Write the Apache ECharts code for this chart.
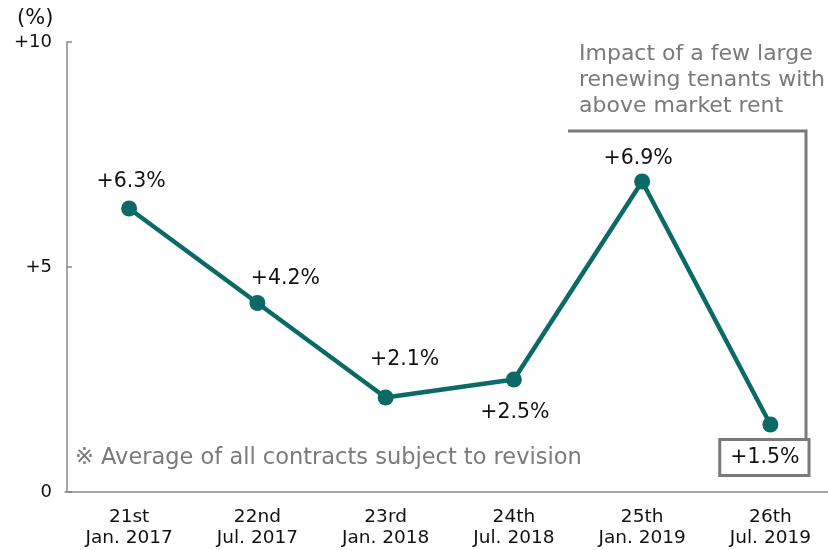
<!DOCTYPE html>
<html>
<head>
<meta charset="utf-8">
<script src="https://cdn.jsdelivr.net/npm/echarts@6/dist/echarts.min.js"></script>
<style>
  html, body { margin: 0; padding: 0; background: #fff; }
  #chart { width: 828px; height: 550px; }
</style>
</head>
<body>
<div id="chart"></div>
<script>
// Rent revision rate by fiscal period
const periods = ['21st\nJan. 2017', '22nd\nJul. 2017', '23rd\nJan. 2018', '24th\nJul. 2018', '25th\nJan. 2019', '26th\nJul. 2019'];
const revisionRate = [6.3, 4.2, 2.1, 2.5, 6.9, 1.5];
const yTicks = [0, 5, 10];

const FONT = 'DejaVu Sans';
const TEAL = '#0b6a66';
const GREY = '#7a7a7a';

// label placement relative to each point (centre of text)
const labelOffsets = [[2, -27], [28, -24], [19, -38], [1, 33], [-4, -23], [-6, 33]];

const fmtPct = v => (v > 0 ? '+' : '') + v.toFixed(1) + '%';

const seriesData = revisionRate.map((v, i) => {
  const item = {
    value: v,
    label: { offset: labelOffsets[i] }
  };
  if (i === revisionRate.length - 1) {
    item.label.borderColor = GREY;
    item.label.borderWidth = 3;
    item.label.padding = [7, 8, 5, 9];
    item.label.backgroundColor = '#fff';
  }
  return item;
});

const chart = echarts.init(document.getElementById('chart'), null, { renderer: 'canvas' });

chart.setOption({
  animation: false,
  backgroundColor: '#fff',
  title: {
    text: '(%)',
    left: 12, top: 3,
    textStyle: { fontFamily: FONT, fontSize: 21, fontWeight: 'normal', color: '#111' }
  },
  // plot area runs a few pixels past the right edge of the canvas
  grid: { left: 65, width: 769.5, top: 42, bottom: 58, outerBoundsMode: 'none', containLabel: false },
  xAxis: {
    type: 'category',
    data: periods,
    boundaryGap: true,
    axisLine: { lineStyle: { color: '#888', width: 1.5 } },
    axisTick: { inside: true, length: 5, lineStyle: { color: '#888', width: 1.5 } },
    axisLabel: {
      fontFamily: FONT, fontSize: 18.5, color: '#111',
      lineHeight: 21, margin: 15
    }
  },
  yAxis: {
    type: 'value',
    min: yTicks[0], max: yTicks[yTicks.length - 1], interval: 5,
    offset: -2,
    axisLine: { show: true, lineStyle: { color: '#888', width: 1.5 } },
    axisTick: { show: true, inside: true, length: 5, lineStyle: { color: '#888', width: 1.5 } },
    splitLine: { show: false },
    axisLabel: {
      fontFamily: FONT, fontSize: 18, color: '#111', margin: 15,
      formatter: v => (v > 0 ? '+' + v : String(v))
    }
  },
  series: [{
    type: 'line',
    data: seriesData,
    symbol: 'circle',
    symbolSize: 16,
    lineStyle: { color: TEAL, width: 4.5 },
    itemStyle: { color: TEAL },
    label: {
      show: true,
      position: 'inside',
      fontFamily: FONT, fontSize: 20.5, color: '#111',
      formatter: p => fmtPct(p.value)
    },
    z: 3
  }],
  graphic: [
    {
      type: 'text',
      left: 579, top: 41,
      style: {
        text: 'Impact of a few large\nrenewing tenants with\nabove market rent',
        font: '22px "DejaVu Sans"',
        fill: GREY,
        lineHeight: 26
      }
    },
    {
      type: 'polyline',
      shape: { points: [[568, 131], [806, 131], [806, 440]] },
      style: { stroke: GREY, lineWidth: 3, fill: null },
      z: 1
    },
    {
      type: 'text',
      left: 75, top: 447,
      style: {
        text: '※ Average of all contracts subject to revision',
        font: '22.5px "DejaVu Sans"',
        fill: GREY
      }
    }
  ]
});
</script>
</body>
</html>
